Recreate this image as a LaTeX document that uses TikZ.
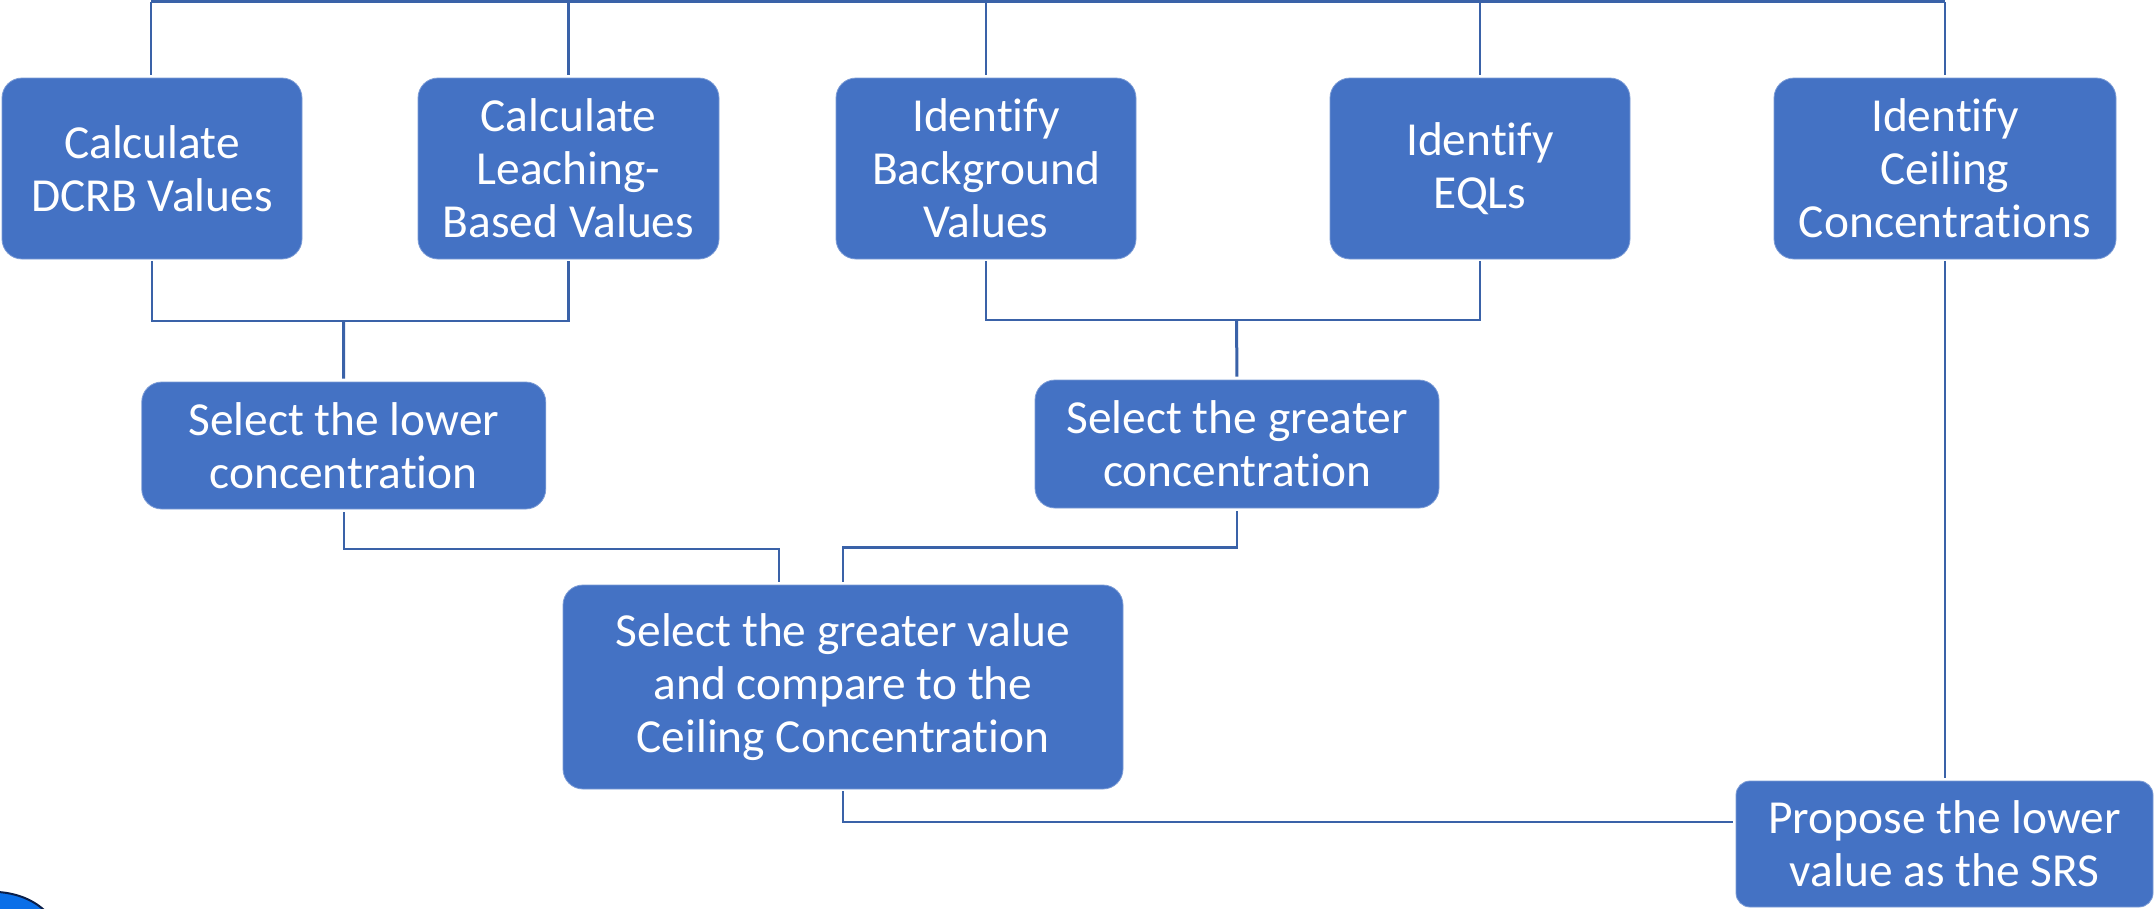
\documentclass[tikz,border=0pt]{standalone}
\usepackage{fontspec}
\setmainfont[Ligatures=NoCommon]{Carlito}
\definecolor{boxblue}{HTML}{4472C4}
\definecolor{wireblue}{HTML}{3A62A8}
\definecolor{blobblue}{HTML}{0A6FE8}
\definecolor{blobline}{HTML}{0A1F4A}
\tikzset{
  flowbox/.style={fill=boxblue,draw=boxblue!70!white,line width=0.8pt,rounded corners=20pt,inner sep=0pt,align=center,text=white,font=\fontsize{47.4}{53}\selectfont},
  wire/.style={draw=wireblue,line width=2.2pt},
  gapstart/.style={shorten <=3pt},
  gapend/.style={shorten >=3pt}
}
\begin{document}
\begin{tikzpicture}[x=1pt,y=-1pt]
\useasboundingbox (0,0) rectangle (2154,908);
\fill[white] (0,0) rectangle (2154,908);
\node[flowbox,minimum width=300pt,minimum height=181pt] (dcrb) at (152,168.5) {Calculate\\DCRB Values};
\node[flowbox,minimum width=301pt,minimum height=181pt] (leach) at (568.5,168.5) {Calculate\\Leaching-\\Based Values};
\node[flowbox,minimum width=300pt,minimum height=181pt] (bg) at (986,168.5) {Identify\\Background\\Values};
\node[flowbox,minimum width=300pt,minimum height=181pt] (eql) at (1480,168.5) {Identify\\EQLs};
\node[flowbox,minimum width=342pt,minimum height=181pt] (ceil) at (1945,168.5) {Identify\\Ceiling\\Concentrations};
\node[flowbox,minimum width=404pt,minimum height=127pt] (lower) at (343.75,445.5) {Select the lower\\concentration};
\node[flowbox,minimum width=404pt,minimum height=128pt] (greater) at (1237,444) {Select the greater\\concentration};
\node[flowbox,minimum width=560pt,minimum height=204pt] (cmp) at (843,687) {Select the greater value\\and compare to the\\Ceiling Concentration};
\node[flowbox,minimum width=417pt,minimum height=126pt,rounded corners=14pt] (srs) at (1944.5,844) {Propose the lower\\value as the SRS};
\coordinate (topleft) at (151,1.5);
\coordinate (topright) at (1945,1.5);
\coordinate (joinl) at (343.5,321);
\coordinate (joinr) at (1236.5,320);
\coordinate (cmpl) at (779,585);
\coordinate (cmpr) at (843,585);
\coordinate (srsin) at (1736,822);
% top bus
\draw[wire,line width=3pt] (topleft) -- (topright);
\draw[wire,gapend] (topleft) -- (dcrb.north -| topleft);
\draw[wire,gapstart] (leach.north) -- (leach.north |- topleft);
\draw[wire,gapstart] (bg.north) -- (bg.north |- topleft);
\draw[wire,gapstart] (eql.north) -- (eql.north |- topleft);
\draw[wire,gapstart] (ceil.north) -- (ceil.north |- topright);
% merges
\draw[wire,shorten <=2pt,shorten >=2pt] (dcrb.south) |- (joinl) -| (leach.south);
\draw[wire,gapend,line width=3pt] (joinl) -- (lower.north);
\draw[wire,shorten <=2pt,shorten >=2pt] (bg.south) |- (joinr) -| (eql.south);
\draw[wire,gapend,line width=3pt] (joinr) -- (greater.north);
% to compare box
\draw[wire,gapstart,gapend] (lower.south) |- ++(0,39.5) -| (cmpl);
\draw[wire,gapstart,gapend] (greater.south) |- ++(0,39) -| (cmpr);
% final
\draw[wire,shorten <=2pt,shorten >=3pt] (cmp.south) |- (srsin);
\draw[wire,shorten <=2pt,shorten >=3pt] (ceil.south) -- (ceil.south |- srs.north);
% partial graphic at the corner
\fill[blobblue,draw=blobline,line width=2pt] (-2,892) .. controls (15,893) and (32,899) .. (44,910) -- (-2,910) -- cycle;
\end{tikzpicture}
\end{document}
